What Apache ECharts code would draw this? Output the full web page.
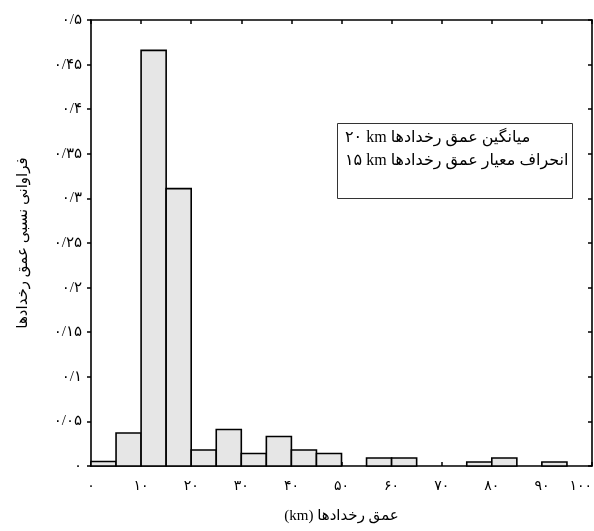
<!DOCTYPE html>
<html>
<head>
<meta charset="utf-8">
<script src="https://cdn.jsdelivr.net/npm/echarts@6/dist/echarts.min.js"></script>
<style>
  html, body { margin: 0; padding: 0; background: #fff; }
  #chart { width: 594px; height: 531px; }
</style>
</head>
<body>
<div id="chart"></div>
<script>
// histogram bins (km) and relative frequency
var binStart = [0, 5, 10, 15, 20, 25, 30, 35, 40, 45, 50, 55, 60, 65, 70, 75, 80, 85, 90, 95]
var binEnd = [5, 10, 15, 20, 25, 30, 35, 40, 45, 50, 55, 60, 65, 70, 75, 80, 85, 90, 95, 100]
var freq = [0.005, 0.037, 0.466, 0.311, 0.018, 0.041, 0.014, 0.033, 0.018, 0.014, 0, 0.009, 0.009, 0, 0, 0.0045, 0.009, 0, 0.0045, 0]

var xTickLabels = ['۰', '۱۰', '۲۰', '۳۰', '۴۰', '۵۰', '۶۰', '۷۰', '۸۰', '۹۰', '۱۰۰']
var yTickLabels = ['۰', '۰/۰۵', '۰/۱', '۰/۱۵', '۰/۲', '۰/۲۵', '۰/۳', '۰/۳۵', '۰/۴', '۰/۴۵', '۰/۵']

var boxLines = ['۲۰ km میانگین عمق رخدادها', '۱۵ km انحراف معیار عمق رخدادها']

var FONT = '"Liberation Serif", "DejaVu Sans", serif'

var data = []
for (var i = 0; i < freq.length; i++) {
  data.push([binStart[i], binEnd[i], freq[i]])
}

var chart = echarts.init(document.getElementById('chart'))

function line() {
  return { show: true, onZero: false, lineStyle: { color: '#000', width: 1.6 } }
}
function tick(inside) {
  return { show: true, inside: inside, length: 4, lineStyle: { color: '#000', width: 1.5 } }
}

chart.setOption({
  animation: false,
  grid: { left: 91, right: 2, top: 20, bottom: 65, containLabel: false, outerBoundsMode: 'none' },
  xAxis: [{
    type: 'value',
    min: 0,
    max: 100,
    interval: 10,
    position: 'bottom',
    axisLine: line(),
    axisTick: tick(true),
    splitLine: { show: false },
    axisLabel: {
      margin: 13,
      color: '#000',
      fontSize: 14,
      fontFamily: FONT,
      alignMaxLabel: 'right',
      formatter: function(v) { return xTickLabels[Math.round(v / 10)] }
    },
    name: '(km) عمق رخدادها',
    nameLocation: 'middle',
    nameGap: 43,
    nameTextStyle: { color: '#000', fontSize: 15, fontFamily: FONT }
  }, {
    type: 'value',
    min: 0,
    max: 100,
    interval: 10,
    position: 'top',
    axisLine: line(),
    axisTick: tick(true),
    axisLabel: { show: false },
    splitLine: { show: false }
  }],
  yAxis: [{
    type: 'value',
    min: 0,
    max: 0.5,
    interval: 0.05,
    position: 'left',
    axisLine: line(),
    axisTick: tick(false),
    splitLine: { show: false },
    axisLabel: {
      margin: 9,
      color: '#000',
      fontSize: 15,
      fontFamily: FONT,
      formatter: function(v) { return yTickLabels[Math.round(v / 0.05)] }
    },
    name: 'فراوانی نسبی عمق رخدادها',
    nameLocation: 'middle',
    nameRotate: 90,
    nameGap: 60,
    nameTextStyle: { color: '#000', fontSize: 15, fontFamily: FONT }
  }, {
    type: 'value',
    min: 0,
    max: 0.5,
    interval: 0.05,
    position: 'right',
    axisLine: line(),
    axisTick: tick(true),
    axisLabel: { show: false },
    splitLine: { show: false }
  }],
  series: [{
    type: 'custom',
    xAxisIndex: 0,
    yAxisIndex: 0,
    data: data,
    renderItem: function(params, api) {
      var h = api.value(2)
      if (!h) return null
      var p0 = api.coord([api.value(0), h])
      var p1 = api.coord([api.value(1), 0])
      return {
        type: 'rect',
        shape: { x: p0[0], y: p0[1], width: p1[0] - p0[0], height: p1[1] - p0[1] },
        style: { fill: '#e6e6e6', stroke: '#000', lineWidth: 1.6 }
      }
    }
  }],
  graphic: [{
    type: 'rect',
    left: 337,
    top: 123,
    shape: { width: 235, height: 75 },
    style: { fill: '#fff', stroke: '#333', lineWidth: 1 }
  }, {
    type: 'text',
    left: 345,
    top: 130,
    style: { text: boxLines[0], fill: '#000', font: '16px ' + FONT }
  }, {
    type: 'text',
    left: 345,
    top: 153,
    style: { text: boxLines[1], fill: '#000', font: '16px ' + FONT }
  }]
})
</script>
</body>
</html>
